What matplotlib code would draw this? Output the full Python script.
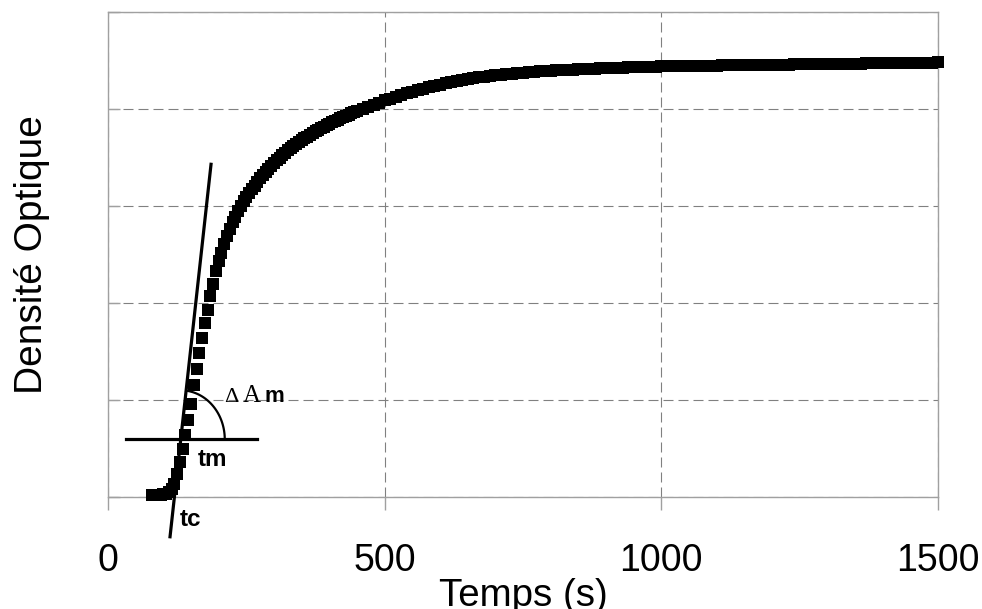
import numpy as np
import matplotlib
matplotlib.use("Agg")
import matplotlib.pyplot as plt

plt.rcParams['font.family'] = ['Liberation Sans', 'DejaVu Sans']

# ---- data ----
# fast sampling part (5 s)
time_fast = [80, 85, 90, 95, 100, 105, 110, 115, 120, 125, 130, 135, 140, 145,
             150, 155, 160, 165, 170, 175, 180, 185, 190, 195, 200, 205, 210,
             215, 220, 225, 230, 235, 240, 245, 250, 255, 260, 265, 270, 275,
             280, 285, 290, 295, 300, 305, 310, 315, 320, 325, 330, 335, 340,
             345, 350, 355, 360, 365, 370, 375, 380, 385, 390, 395, 400, 405,
             410, 415, 420, 425, 430, 435, 440, 445, 450]
dens_fast = [0.02, 0.02, 0.02, 0.02, 0.03, 0.03, 0.05, 0.08, 0.13, 0.24, 0.36,
             0.49, 0.64, 0.79, 0.96, 1.15, 1.32, 1.48, 1.64, 1.79, 1.93, 2.07,
             2.20, 2.33, 2.43, 2.52, 2.61, 2.69, 2.76, 2.83, 2.89, 2.95, 3.00,
             3.05, 3.09, 3.132, 3.172, 3.210, 3.248, 3.284, 3.319, 3.352, 3.384,
             3.415, 3.444, 3.472, 3.499, 3.525, 3.550, 3.573, 3.596, 3.617,
             3.638, 3.658, 3.678, 3.697, 3.716, 3.734, 3.752, 3.769, 3.786,
             3.802, 3.818, 3.833, 3.848, 3.862, 3.876, 3.890, 3.903, 3.916,
             3.929, 3.942, 3.954, 3.966, 3.978]
# slower part (10 s)
time_slow = [460, 470, 480, 490, 500, 510, 520, 530, 540, 550, 560, 570, 580,
             590, 600, 610, 620, 630, 640, 650, 660, 670, 680, 690, 700, 710,
             720, 730, 740, 750, 760, 770, 780, 790, 800, 810, 820, 830, 840,
             850, 860, 870, 880, 890, 900, 910, 920, 930, 940, 950, 960, 970,
             980, 990, 1000, 1010, 1020, 1030, 1040, 1050, 1060, 1070, 1080,
             1090, 1100, 1110, 1120, 1130, 1140, 1150, 1160, 1170, 1180, 1190,
             1200, 1210, 1220, 1230, 1240, 1250, 1260, 1270, 1280, 1290, 1300,
             1310, 1320, 1330, 1340, 1350, 1360, 1370, 1380, 1390, 1400, 1410,
             1420, 1430, 1440, 1450, 1460, 1470, 1480, 1490, 1500]
dens_slow = [4.001, 4.023, 4.045, 4.066, 4.088, 4.107, 4.126, 4.144, 4.161,
             4.178, 4.194, 4.210, 4.225, 4.239, 4.252, 4.264, 4.276, 4.287,
             4.297, 4.307, 4.316, 4.325, 4.333, 4.340, 4.347, 4.353, 4.359,
             4.365, 4.370, 4.375, 4.380, 4.384, 4.388, 4.392, 4.395, 4.398,
             4.401, 4.404, 4.407, 4.410, 4.413, 4.415, 4.417, 4.419, 4.421,
             4.423, 4.425, 4.427, 4.429, 4.431, 4.433, 4.435, 4.437, 4.438,
             4.440, 4.441, 4.442, 4.442, 4.443, 4.444, 4.445, 4.446, 4.446,
             4.447, 4.448, 4.449, 4.450, 4.450, 4.451, 4.452, 4.453, 4.454,
             4.454, 4.455, 4.456, 4.457, 4.458, 4.458, 4.459, 4.460, 4.461,
             4.462, 4.462, 4.463, 4.464, 4.465, 4.466, 4.466, 4.467, 4.468,
             4.469, 4.470, 4.470, 4.471, 4.472, 4.473, 4.474, 4.474, 4.475,
             4.476, 4.477, 4.478, 4.478, 4.479, 4.480]

x_ticks = [0, 500, 1000, 1500]
x_tick_labels = ['0', '500', '1000', '1500']
y_grid = [0, 1, 2, 3, 4, 5]

# construction lines (tangent, baseline level, angle arc)
tangent_t = [112.1, 186.2]
tangent_y = [-0.41, 3.43]
level_t = [32.5, 269.8]
level_y = [0.595, 0.595]
arc_center = (131.5, 0.595)
arc_radii = (79.5, 0.505)
arc_span_deg = (0, 83)

# ---- figure ----
fig = plt.figure(figsize=(9.82, 6.09), dpi=100)
ax = fig.add_axes([108 / 982, 1 - 497 / 609, 830 / 982, 485 / 609])
ax.set_xlim(0, 1500)
ax.set_ylim(0, 5)

gray = '#a0a0a0'
for s in ax.spines.values():
    s.set_color(gray)
    s.set_linewidth(1.0)

ax.set_xticks(x_ticks)
ax.set_xticklabels(x_tick_labels, fontsize=27)
ax.set_yticks(y_grid)
ax.set_yticklabels([])
ax.tick_params(axis='x', direction='out', length=9.4, color=gray, width=1.0, pad=24)
ax.tick_params(axis='y', direction='in', length=8.6, color=gray, width=1.0)

ax.grid(True, color='#808080', linewidth=0.8, linestyle=(0, (9, 4.5)))
ax.set_axisbelow(True)

for tt, dd in ((time_fast, dens_fast), (time_slow, dens_slow)):
    ax.plot(tt, dd, linestyle='none', marker='s', markersize=8.3,
            markeredgewidth=0, color='black', clip_on=False, zorder=5)

ax.plot(tangent_t, tangent_y, color='black', linewidth=2.3, clip_on=False, zorder=6)
ax.plot(level_t, level_y, color='black', linewidth=2.3, clip_on=False, zorder=6)

th = np.deg2rad(np.linspace(arc_span_deg[0], arc_span_deg[1], 60))
ax.plot(arc_center[0] + arc_radii[0] * np.cos(th),
        arc_center[1] + arc_radii[1] * np.sin(th),
        color='black', linewidth=1.6, zorder=6)

serif = ['Liberation Serif', 'DejaVu Serif']
ax.text(209.0, 0.975, '\u0394', fontsize=16, family=serif, ha='left', va='baseline', zorder=7)
ax.text(243.5, 0.975, 'A', fontsize=18, family=serif, ha='left', va='baseline', zorder=7)
ax.text(283.5, 0.975, 'm', fontsize=16, fontweight='bold', ha='left', va='baseline', zorder=7)
ax.text(161.5, 0.32, 'tm', fontsize=17.5, fontweight='bold', ha='left', va='baseline', zorder=7)
ax.text(130.0, -0.30, 'tc', fontsize=17.5, fontweight='bold', ha='left', va='baseline', zorder=7)

ax.set_xlabel('Temps (s)', fontsize=27.7, va='baseline')
ax.xaxis.set_label_coords(0.5, -(605.5 - 497) / 485)
ax.set_ylabel('Densité Optique', fontsize=28, va='baseline')
ax.yaxis.set_label_coords((42 - 108) / 830, 0.5)

fig.savefig('out.png', dpi=100)
